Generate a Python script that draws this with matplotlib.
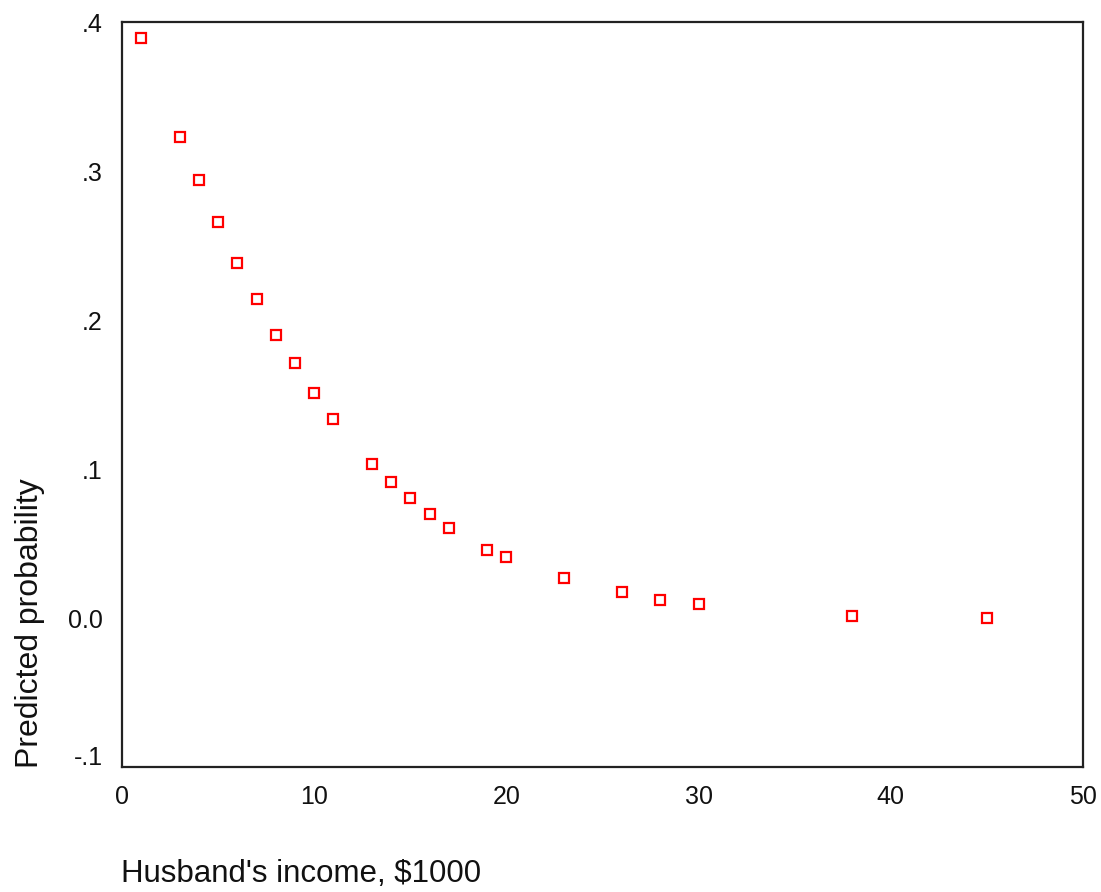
import matplotlib.pyplot as plt
from matplotlib.transforms import ScaledTranslation

plt.rcParams['font.family'] = ['Liberation Sans', 'DejaVu Sans']

# husband's income ($1000) vs predicted probability
income = [1, 3, 4, 5, 6, 7, 8, 9, 10, 11, 13, 14, 15, 16, 17, 19, 20, 23, 26, 28, 30, 38, 45]
prob = [0.389, 0.3226, 0.2937, 0.2655, 0.2386, 0.2144, 0.190, 0.171, 0.151, 0.1337,
        0.1035, 0.0914, 0.0806, 0.0699, 0.0605, 0.0457, 0.041, 0.0269, 0.0175,
        0.0121, 0.0094, 0.0013, 0.0]

xticks = [0, 10, 20, 30, 40, 50]
yticks = [-0.1, 0.0, 0.1, 0.2, 0.3, 0.4]
ytick_labels = ["-.1", "0.0", ".1", ".2", ".3", ".4"]

fig = plt.figure(figsize=(11.01, 8.92), dpi=100)
ax = fig.add_axes([0.1108, 0.1401, 0.8729, 0.8352])

ax.plot(income, prob, linestyle="none", marker="s", markersize=6.5,
        markerfacecolor="white", markeredgecolor="#ff0000", markeredgewidth=1.6)

ax.set_xlim(0, 50)
ax.set_ylim(-0.1, 0.4)
ax.set_xticks(xticks)
ax.set_xticklabels([str(t) for t in xticks])
ax.set_yticks(yticks)
ax.set_yticklabels(ytick_labels)
ax.tick_params(length=0, labelsize=18, colors="#111111")
ax.tick_params(axis="x", pad=13)
ax.tick_params(axis="y", pad=14)

# lift the bottom y label a little off the x axis
lbl = ax.get_yticklabels()[0]
lbl.set_transform(lbl.get_transform() + ScaledTranslation(0, 12 / 100, fig.dpi_scale_trans))

for s in ax.spines.values():
    s.set_linewidth(1.6)
    s.set_color("#222222")

fig.text(0.110, 0.003, "Husband's income, $1000", fontsize=22.5, ha="left", va="bottom",
         color="#111111")
fig.text(0.027, 0.139, "Predicted probability", fontsize=23, rotation=90, ha="center",
         va="bottom", color="#111111")

fig.savefig("out.png", dpi=100)
